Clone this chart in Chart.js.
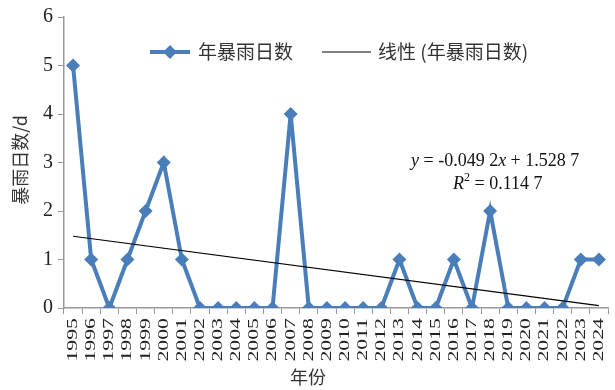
<!DOCTYPE html>
<html>
<head>
<meta charset="utf-8">
<script src="https://cdn.jsdelivr.net/npm/chart.js@4.4.1/dist/chart.umd.min.js"></script>
<style>
  html, body { margin: 0; padding: 0; background: #fff; }
  #wrap { width: 615px; height: 390px; }
</style>
</head>
<body>
<div id="wrap"><canvas id="c" width="615" height="390"></canvas></div>
<script>
// 年份
const years = [
  "1995", "1996", "1997", "1998", "1999", "2000", "2001", "2002", "2003", "2004",
  "2005", "2006", "2007", "2008", "2009", "2010", "2011", "2012", "2013", "2014",
  "2015", "2016", "2017", "2018", "2019", "2020", "2021", "2022", "2023", "2024",
];
// 年暴雨日数
const stormDays = [5, 1, 0, 1, 2, 3, 1, 0, 0, 0, 0, 0, 4, 0, 0, 0, 0, 0, 1, 0, 0, 1, 0, 2, 0, 0, 0, 0, 1, 1];
// 趋势线の両端（図から読んだ値）
const trendEnds = [1.48, 0.05];
const yTicks = [0, 1, 2, 3, 4, 5, 6];

const blue = "#4a7ebb";
const serif = "'Liberation Serif', 'DejaVu Serif', serif";
const cjk = "'Noto Sans CJK SC', sans-serif";

// 凡例・軸タイトル・式・x軸ラベルを描画
const extras = {
  id: "extras",
  afterDraw(chart) {
    const ctx = chart.ctx;
    ctx.save();
    // 凡例
    ctx.strokeStyle = blue;
    ctx.lineWidth = 4;
    ctx.beginPath();
    ctx.moveTo(150, 52);
    ctx.lineTo(190, 52);
    ctx.stroke();
    ctx.fillStyle = blue;
    ctx.beginPath();
    ctx.moveTo(170, 45);
    ctx.lineTo(177, 52);
    ctx.lineTo(170, 59);
    ctx.lineTo(163, 52);
    ctx.closePath();
    ctx.fill();
    ctx.strokeStyle = "#000";
    ctx.lineWidth = 1.2;
    ctx.beginPath();
    ctx.moveTo(322, 52);
    ctx.lineTo(371, 52);
    ctx.stroke();
    ctx.fillStyle = "#333";
    ctx.font = "19px " + cjk;
    ctx.textBaseline = "middle";
    ctx.textAlign = "left";
    ctx.fillText("年暴雨日数", 198, 52);
    ctx.fillText("线性 (年暴雨日数)", 378, 52);

    // 軸タイトル
    ctx.font = "18px " + cjk;
    ctx.textAlign = "center";
    ctx.fillText("年份", 308, 377);
    ctx.save();
    ctx.translate(20, 160);
    ctx.rotate(-Math.PI / 2);
    ctx.fillText("暴雨日数/d", 0, 0);
    ctx.restore();

    // x軸ラベル（縦書き、横に伸ばした字形）
    const xs = chart.scales.x;
    ctx.fillStyle = "#222";
    ctx.font = "15px " + serif;
    ctx.textAlign = "right";
    years.forEach((y, i) => {
      const px = xs.getPixelForValue(i);
      ctx.save();
      ctx.translate(px, xs.top + 10);
      ctx.rotate(-Math.PI / 2);
      ctx.scale(1.45, 1);
      ctx.fillText(y, 0, 0);
      ctx.restore();
    });

    // 回帰式
    ctx.fillStyle = "#111";
    ctx.textAlign = "left";
    const parts1 = [
      ["italic 18px " + serif, "y"],
      ["18px " + serif, " = -0.049 2"],
      ["italic 18px " + serif, "x"],
      ["18px " + serif, " + 1.528 7"],
    ];
    let x = 411;
    parts1.forEach(([f, t]) => {
      ctx.font = f;
      ctx.fillText(t, x, 161);
      x += ctx.measureText(t).width;
    });
    x = 453;
    ctx.font = "italic 18px " + serif;
    ctx.fillText("R", x, 184);
    x += ctx.measureText("R").width;
    ctx.font = "12px " + serif;
    ctx.fillText("2", x, 178);
    x += ctx.measureText("2").width;
    ctx.font = "18px " + serif;
    ctx.fillText(" = 0.114 7", x, 184);
    ctx.restore();
  },
};

new Chart(document.getElementById("c"), {
  type: "line",
  data: {
    labels: years,
    datasets: [
      {
        label: "年暴雨日数",
        data: stormDays,
        borderColor: blue,
        backgroundColor: blue,
        borderWidth: 4,
        pointStyle: "rectRot",
        pointRadius: 7,
        pointBorderWidth: 0,
        tension: 0,
        order: 2,
      },
      {
        label: "线性 (年暴雨日数)",
        data: [
          { x: years[0], y: trendEnds[0] },
          { x: years[years.length - 1], y: trendEnds[1] },
        ],
        borderColor: "#000",
        borderWidth: 1.2,
        pointRadius: 0,
        order: 1,
      },
    ],
  },
  options: {
    responsive: false,
    animation: false,
    layout: { padding: { top: 15, right: 4, left: 0, bottom: 0 } },
    plugins: { legend: { display: false }, tooltip: { enabled: false } },
    scales: {
      x: {
        type: "category",
        offset: true,
        afterFit: (s) => { s.height = 82; },
        border: { color: "#999", width: 1.5 },
        grid: { display: true, drawOnChartArea: false, tickLength: 6, color: "#999", offset: true },
        ticks: { display: false, autoSkip: false },
      },
      y: {
        min: 0,
        max: 6,
        afterFit: (s) => { s.width = 64; },
        afterBuildTicks: (s) => { s.ticks = yTicks.map((v) => ({ value: v })); },
        border: { color: "#999", width: 1.5 },
        grid: { display: true, drawOnChartArea: false, tickLength: 6, color: "#999" },
        ticks: {
          padding: 5,
          color: "#222",
          font: { family: serif, size: 20 },
        },
      },
    },
  },
  plugins: [extras],
});
</script>
</body>
</html>
